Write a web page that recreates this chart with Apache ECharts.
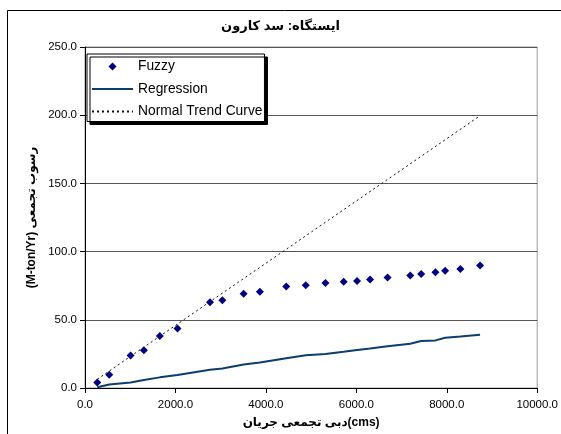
<!DOCTYPE html>
<html>
<head>
<meta charset="utf-8">
<script src="https://cdn.jsdelivr.net/npm/echarts@6/dist/echarts.min.js"></script>
<style>
html,body{margin:0;padding:0;background:#fff;}
#chart{width:561px;height:434px;}
</style>
</head>
<body>
<div id="chart"></div>
<script>
// Data
var flowX = [271, 536, 1008, 1302, 1655, 2045, 2764, 3038, 3508, 3867, 4450, 4882, 5317, 5720, 6016, 6303, 6691, 7192, 7434, 7750, 7964, 8301, 8736];
var fuzzyY = [4.1, 9.8, 23.8, 27.7, 38.1, 43.7, 62.9, 64.3, 69.1, 70.6, 74.5, 75.3, 76.9, 77.9, 78.5, 79.6, 81.1, 82.5, 83.5, 84.9, 85.9, 87.3, 89.8];
var regressionY = [0.5, 2.5, 4.1, 5.8, 7.8, 9.5, 13.4, 14.3, 17.2, 18.7, 21.8, 24.0, 25.0, 26.5, 27.9, 28.9, 30.6, 32.5, 34.5, 34.9, 36.9, 37.8, 39.1];
var trendX = [271, 2190, 4375, 8736];
var trendY = [6.4, 50.2, 100.0, 199.6];
var xTicks = [0, 2000, 4000, 6000, 8000, 10000];
var yTicks = [0, 50, 100, 150, 200, 250];

var seriesNames = ['Fuzzy', 'Regression', 'Normal Trend Curve'];
var titleText = 'ایستگاه: سد کارون';
var xName = 'دبی تجمعی جریان(cms)';
var yName = '(M-ton/Yr) رسوب تجمعی';

function pairs(xs, ys) { return xs.map(function (x, i) { return [x, ys[i]]; }); }

var FONT = '"Liberation Sans", Arial, "DejaVu Sans", sans-serif';
var noSym = {color: 'rgba(0,0,0,0)', borderWidth: 0, opacity: 0};
var chart = echarts.init(document.getElementById('chart'), null, {renderer: 'canvas'});
chart.setOption({
  animation: false,
  backgroundColor: '#fff',
  textStyle: {fontFamily: FONT},
  graphic: [{
    type: 'rect', z: -10, silent: true,
    shape: {x: 7.5, y: 10.5, width: 700, height: 600},
    style: {fill: 'none', stroke: '#000', lineWidth: 1}
  }],
  title: {
    text: titleText,
    left: 'center', top: 20,
    padding: [0, 0, 0, 7],
    textStyle: {fontFamily: FONT, fontSize: 13, fontWeight: 'bold', color: '#000'}
  },
  grid: {
    left: 85, right: 22.5, top: 47, bottom: 43,
    show: true, borderColor: '#9a9a9a', borderWidth: 1, backgroundColor: 'transparent'
  },
  legend: {
    orient: 'vertical', left: 87, top: 54,
    padding: [4.5, 2, 2, 4],
    itemWidth: 41, itemHeight: 8, itemGap: 6.5,
    symbolKeepAspect: true,
    backgroundColor: '#fff', borderColor: '#000', borderWidth: 1,
    shadowColor: '#000', shadowBlur: 0, shadowOffsetX: 3, shadowOffsetY: 3,
    textStyle: {fontFamily: FONT, fontSize: 13.8, color: '#000', lineHeight: 16},
    data: [
      {name: seriesNames[0], icon: 'path://M0,-1L1,0L0,1L-1,0Z'},
      {name: seriesNames[1], itemStyle: noSym},
      {name: seriesNames[2], itemStyle: noSym}
    ]
  },
  xAxis: {
    type: 'value', min: xTicks[0], max: xTicks[xTicks.length - 1], interval: 2000,
    name: xName, nameLocation: 'middle', nameGap: 29,
    nameTextStyle: {fontFamily: FONT, fontSize: 12, fontWeight: 'bold', color: '#000'},
    axisLine: {show: true, onZero: false, lineStyle: {color: '#000', width: 1}},
    axisTick: {show: true, inside: false, length: 5, lineStyle: {color: '#000'}},
    axisLabel: {margin: 11, fontFamily: FONT, fontSize: 11.5, color: '#000',
      formatter: function (v) { return v.toFixed(1); }},
    splitLine: {show: false}
  },
  yAxis: {
    type: 'value', min: yTicks[0], max: yTicks[yTicks.length - 1], interval: 50,
    name: yName, nameLocation: 'middle', nameGap: 40, nameRotate: 90,
    nameTextStyle: {fontFamily: FONT, fontSize: 12, fontWeight: 'bold', color: '#000'},
    axisLine: {show: true, onZero: false, lineStyle: {color: '#000', width: 1}},
    axisTick: {show: true, inside: false, length: 5, lineStyle: {color: '#000'}},
    axisLabel: {margin: 8, fontFamily: FONT, fontSize: 11.5, color: '#000',
      formatter: function (v) { return v.toFixed(1); }},
    splitLine: {show: true, lineStyle: {color: '#555', width: 1}}
  },
  series: [
    {
      name: seriesNames[0], type: 'scatter', symbol: 'diamond', symbolSize: 8, z: 5,
      itemStyle: {color: '#000080', opacity: 1},
      data: pairs(flowX, fuzzyY)
    },
    {
      name: seriesNames[1], type: 'line', symbol: 'none', showSymbol: false, z: 3,
      lineStyle: {color: '#0b3d6e', width: 2},
      itemStyle: {color: '#0b3d6e'},
      data: pairs(flowX, regressionY)
    },
    {
      name: seriesNames[2], type: 'line', symbol: 'none', showSymbol: false, z: 4,
      lineStyle: {color: '#111', width: 1, type: [2, 3]},
      itemStyle: {color: '#111'},
      data: pairs(trendX, trendY)
    }
  ]
});
</script>
</body>
</html>
